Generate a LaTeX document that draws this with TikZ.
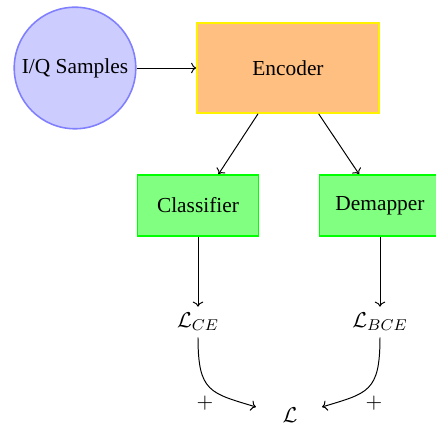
\documentclass[tikz,border=0pt]{standalone}
\usepackage{fontspec}
\setmainfont{Liberation Serif}
\usetikzlibrary{calc,arrows.meta}
\begin{document}
\begin{tikzpicture}[x=0.51pt,y=-0.51pt,
  every node/.style={font=\fontsize{10.9}{13}\selectfont},
  circ/.style={circle,draw=blue!50,fill=blue!20,thick,minimum size=62pt,inner sep=0pt},
  encbox/.style={rectangle,draw=yellow,fill=orange!50,thick,minimum width=92.8pt,minimum height=45.9pt},
  greenbox/.style={rectangle,draw=green,fill=green!50,thick,minimum width=61.8pt,minimum height=31.1pt},
  lossnode/.style={inner sep=3pt},
  arr/.style={-{To[length=2.6pt,width=5.4pt]},line width=0.5pt}]
\useasboundingbox (0,0) rectangle (436,427);
\node[circ] (iq) at (75,68) {I/Q Samples};
\node[encbox] (enc) at (288,68) {Encoder};
\node[greenbox] (cls) at (198,205.5) {Classifier};
\node[greenbox] (dem) at (380,205.5) {Demapper};
\node[lossnode] (lce) at (198,322) {$\mathcal{L}_{CE}$};
\node[lossnode] (lbce) at (380,322) {$\mathcal{L}_{BCE}$};
\node[lossnode] (L) at (290,415) {$\mathcal{L}$};
\coordinate (lin) at (256,407);
\coordinate (rin) at (322,407);
\node (p1) at (205,403) {$+$};
\node (p2) at (374,403) {$+$};
\draw[arr] (iq) -- (enc);
\draw[arr] (enc) -- (cls);
\draw[arr] (enc) -- (dem);
\draw[arr] (cls) -- (lce);
\draw[arr] (dem) -- (lbce);
\draw[arr] (lce.south) .. controls ($(lce.south)+(0,55)$) and ($(lin)+(-46,-14)$) .. (lin);
\draw[arr] (lbce.south) .. controls ($(lbce.south)+(0,55)$) and ($(rin)+(46,-14)$) .. (rin);
\end{tikzpicture}
\end{document}
